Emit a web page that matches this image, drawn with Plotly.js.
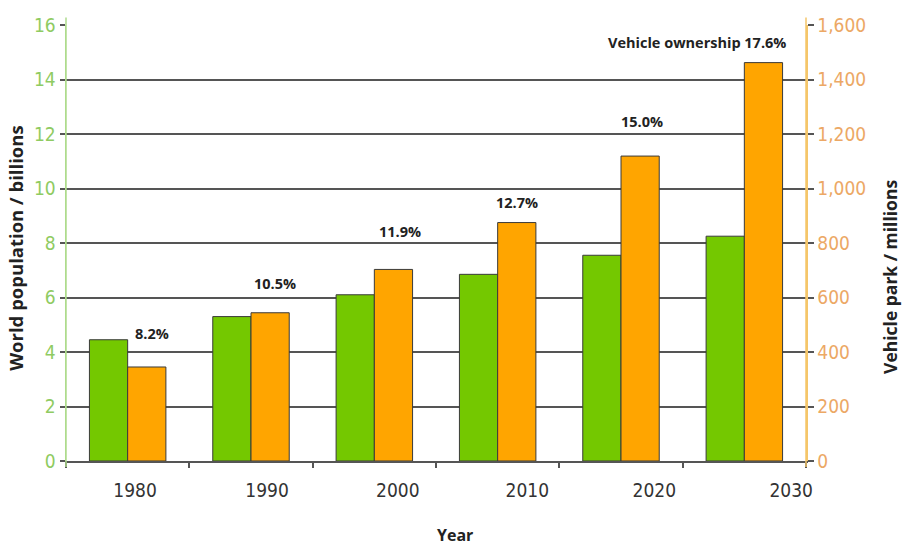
<!DOCTYPE html>
<html>
<head>
<meta charset="utf-8">
<script src="https://cdn.plot.ly/plotly-3.0.1.min.js"></script>
<style>html,body{margin:0;padding:0;background:#fff}#chart{width:903px;height:545px}</style>
</head>
<body>
<div id="chart"></div>
<script>
// ---- data ----
var years = ["1980", "1990", "2000", "2010", "2020", "2030"];
var populationBillions = [4.45, 5.3, 6.1, 6.85, 7.55, 8.25];
var vehicleParkMillions = [345, 544, 703, 875, 1119, 1462];
var ownershipLabels = ["8.2%", "10.5%", "11.9%", "12.7%", "15.0%", "Vehicle ownership 17.6%"];

// ---- layout positions (not data) ----
var yearLabelPos = [0.06, 1.13, 2.19, 3.24, 4.27, 5.38];
var ownLabelX = [0.195, 1.195, 2.21, 3.16, 4.17, 4.62];
var ownLabelY = [4.69, 6.50, 8.44, 9.48, 12.45, 15.35];

var tickFont = "Liberation Sans Narrow, DejaVu Sans Condensed, Arial Narrow, sans-serif";
var boldFont = "Open Sans, Lato, sans-serif";

var traces = [
  {type: "bar", name: "World population", x: years, y: populationBillions,
   xaxis: "x", yaxis: "y", offsetgroup: "1",
   marker: {color: "#74c800", line: {color: "#3a3a3a", width: 1}}, hoverinfo: "skip"},
  {type: "bar", name: "Vehicle park", x: years, y: vehicleParkMillions,
   xaxis: "x", yaxis: "y2", offsetgroup: "2",
   marker: {color: "#ffa500", line: {color: "#3a3a3a", width: 1}}, hoverinfo: "skip"},
  {type: "scatter", mode: "markers", x: yearLabelPos, y: yearLabelPos.map(function(){return 0;}),
   xaxis: "x2", yaxis: "y", marker: {opacity: 0, size: 1}, hoverinfo: "skip", showlegend: false}
];

var annotations = ownershipLabels.map(function(t, i) {
  return {text: "<b>" + t + "</b>", x: ownLabelX[i], y: ownLabelY[i], xref: "x2", yref: "y",
          showarrow: false, xanchor: "center", yanchor: "middle",
          font: {family: boldFont, size: 14.5, color: "#222"}};
});
annotations.push(
  {text: "<b>World population / billions</b>", xref: "paper", yref: "paper", x: -0.0676, y: 0.489,
   textangle: -90, showarrow: false, xanchor: "center", yanchor: "middle",
   font: {family: boldFont, size: 18.5, color: "#222"}},
  {text: "<b>Vehicle park / millions</b>", xref: "paper", yref: "paper", x: 1.1135, y: 0.422,
   textangle: -90, showarrow: false, xanchor: "center", yanchor: "middle",
   font: {family: boldFont, size: 17.5, color: "#222"}},
  {text: "<b>Year</b>", xref: "paper", yref: "paper", x: 0.526, y: -0.17,
   showarrow: false, xanchor: "center", yanchor: "middle",
   font: {family: boldFont, size: 16, color: "#222"}}
);

var layout = {
  width: 903, height: 545,
  margin: {l: 66, r: 97, t: 25, b: 84},
  paper_bgcolor: "#fff", plot_bgcolor: "#fff",
  showlegend: false,
  barmode: "group", bargap: 0.38, bargroupgap: 0,
  xaxis: {type: "category", tickson: "boundaries", ticks: "outside", ticklen: 5,
          tickcolor: "#555", tickwidth: 2, showticklabels: false, showgrid: false,
          showline: true, linecolor: "#555", linewidth: 2, zeroline: false, fixedrange: true},
  xaxis2: {overlaying: "x", anchor: "y", side: "bottom", range: [-0.5, 5.5],
           tickmode: "array", tickvals: yearLabelPos, ticktext: years, ticks: "",
           showgrid: false, showline: false, zeroline: false, ticklabelstandoff: 16,
           tickfont: {family: tickFont, size: 19, color: "#333"}},
  yaxis: {range: [0, 16], dtick: 2, showgrid: true, gridcolor: "#555", gridwidth: 2,
          zeroline: false, ticks: "outside", ticklen: 5, tickcolor: "#555", tickwidth: 2,
          showline: true, linecolor: "#aedb8c", linewidth: 1.5,
          tickfont: {family: tickFont, size: 19, color: "#8fcb62"}},
  yaxis2: {range: [0, 1600], dtick: 200, tickformat: ",", overlaying: "y", side: "right",
           showgrid: false, zeroline: false, ticks: "outside", ticklen: 6, tickcolor: "#555", tickwidth: 2,
           showline: true, linecolor: "#f5c66a", linewidth: 1.5,
           tickfont: {family: tickFont, size: 19, color: "#eca865"}},
  shapes: [
    {type: "line", xref: "paper", yref: "paper", x0: 0, x1: 0, y0: -0.014, y1: 1.017,
     line: {color: "#aedb8c", width: 1.5}},
    {type: "line", xref: "paper", yref: "paper", x0: 1, x1: 1, y0: -0.014, y1: 1.017,
     line: {color: "#f5c66a", width: 1.5}}
  ],
  annotations: annotations
};

Plotly.newPlot("chart", traces, layout, {displayModeBar: false, staticPlot: true});
</script>
</body>
</html>
